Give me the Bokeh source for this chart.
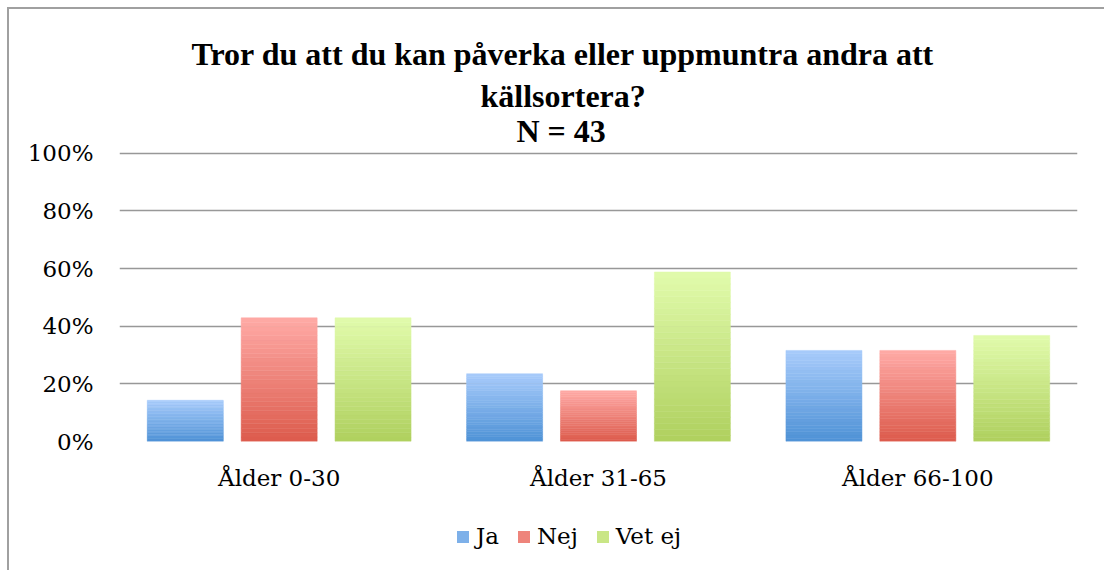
from bokeh.plotting import figure
from bokeh.layouts import column
from bokeh.models import (ColumnDataSource, FactorRange, Range1d, FixedTicker,
                          PrintfTickFormatter, Legend, LegendItem, Title)
from bokeh.transform import dodge
from bokeh.embed import file_html
from bokeh.resources import INLINE

# ---- data ----
title_lines = ["Tror du att du kan påverka eller uppmuntra andra att",
               "källsortera?", "N = 43"]
categories = ["Ålder 0-30", "Ålder 31-65", "Ålder 66-100"]
series = ["Ja", "Nej", "Vet ej"]
ja = [14.3, 23.5, 31.6]
nej = [42.9, 17.6, 31.6]
vet_ej = [42.9, 58.8, 36.8]
y_ticks = [0, 20, 40, 60, 80, 100]

# ---- style ----
grad = {
    "Ja": ((0x4e, 0x92, 0xd6), (0xa8, 0xcb, 0xfb)),
    "Nej": ((0xdc, 0x5b, 0x4c), (0xff, 0xaa, 0xa6)),
    "Vet ej": ((0xaf, 0xd0, 0x5e), (0xe1, 0xfb, 0xac)),
}
N = 28
offsets = [-0.294, 0.0, 0.294]
bar_w = 0.238
tick_font = "'DejaVu Serif', serif"
tick_size = "23px"
W = 1095


def mix(c0, c1, t):
    return "#%02x%02x%02x" % tuple(int(round(a + (b - a) * t)) for a, b in zip(c0, c1))


p = figure(x_range=FactorRange(*categories), y_range=Range1d(0, 100.6),
           width=W, height=500, output_backend="svg", toolbar_location=None,
           min_border_left=110, min_border_right=27, min_border_top=142,
           min_border_bottom=68)
p.outline_line_color = None
p.background_fill_color = "white"
p.border_fill_color = "white"

p.xgrid.visible = False
p.ygrid.ticker = FixedTicker(ticks=y_ticks)
p.ygrid.grid_line_color = "#989898"
p.ygrid.grid_line_width = 1.7

p.yaxis.ticker = FixedTicker(ticks=y_ticks)
p.yaxis.formatter = PrintfTickFormatter(format="%d%%")
for ax in (p.xaxis[0], p.yaxis[0]):
    ax.axis_line_color = None
    ax.major_tick_line_color = None
    ax.minor_tick_line_color = None
    ax.major_tick_out = 0
    ax.major_tick_in = 0
    ax.major_label_text_font = tick_font
    ax.major_label_text_font_size = tick_size
    ax.major_label_text_color = "black"
p.yaxis.major_label_standoff = 26
p.xaxis.major_label_standoff = 23

# legend strip (second figure sharing the x range)
p2 = figure(x_range=p.x_range, y_range=Range1d(0, 1), width=W, height=61,
            output_backend="svg", toolbar_location=None,
            min_border_left=110, min_border_right=27, min_border_top=0,
            min_border_bottom=0)
p2.outline_line_color = None
p2.axis.visible = False
p2.grid.visible = False
p2.border_fill_color = "white"

renderers = []
for s, vals, off in zip(series, [ja, nej, vet_ej], offsets):
    c0, c1 = grad[s]
    xs, bots, tops, cols = [], [], [], []
    for cat, v in zip(categories, vals):
        for k in range(N):
            xs.append(cat)
            bots.append(v * k / N)
            tops.append(v * (k + 1) / N)
            cols.append(mix(c0, c1, (k + 0.5) / N))
    src = ColumnDataSource(dict(x=xs, bottom=bots, top=tops, color=cols))
    p.vbar(x=dodge("x", off, range=p.x_range), bottom="bottom", top="top",
           width=bar_w, fill_color="color", line_color="color",
           line_width=0.5, source=src)
    r2 = p2.vbar(x=dodge("x", off, range=p.x_range), bottom="bottom", top="top",
                 width=bar_w, fill_color="color", line_color=None,
                 source=src, visible=False)
    renderers.append(r2)

legend = Legend(items=[LegendItem(label=s, renderers=[r], index=N // 2)
                       for s, r in zip(series, renderers)],
                orientation="horizontal", location=(336, 21),
                glyph_width=15, glyph_height=15, label_standoff=6, spacing=17,
                padding=0, margin=0, border_line_color=None,
                background_fill_alpha=0, label_text_font=tick_font,
                label_text_font_size=tick_size, label_text_color="black",
                click_policy="none")
p2.add_layout(legend)

# title lines: added nearest-to-frame first
title_offsets = [72, 361, 397]
title_standoffs = [18.6, -11.2, 4.6]
for line, off, so in reversed(list(zip(title_lines, title_offsets, title_standoffs))):
    p.add_layout(Title(text=line, align="left", offset=off, standoff=so,
                       vertical_align="bottom",
                       text_font="Liberation Serif", text_font_style="bold",
                       text_font_size="32px", text_color="black"), "above")

layout = column(p, p2, spacing=0,
                styles={"margin-left": "7px", "margin-top": "7px",
                        "border-left": "2px solid #a0a0a0",
                        "border-top": "2px solid #a0a0a0"})

open("out.html", "w").write(file_html(layout, INLINE))
